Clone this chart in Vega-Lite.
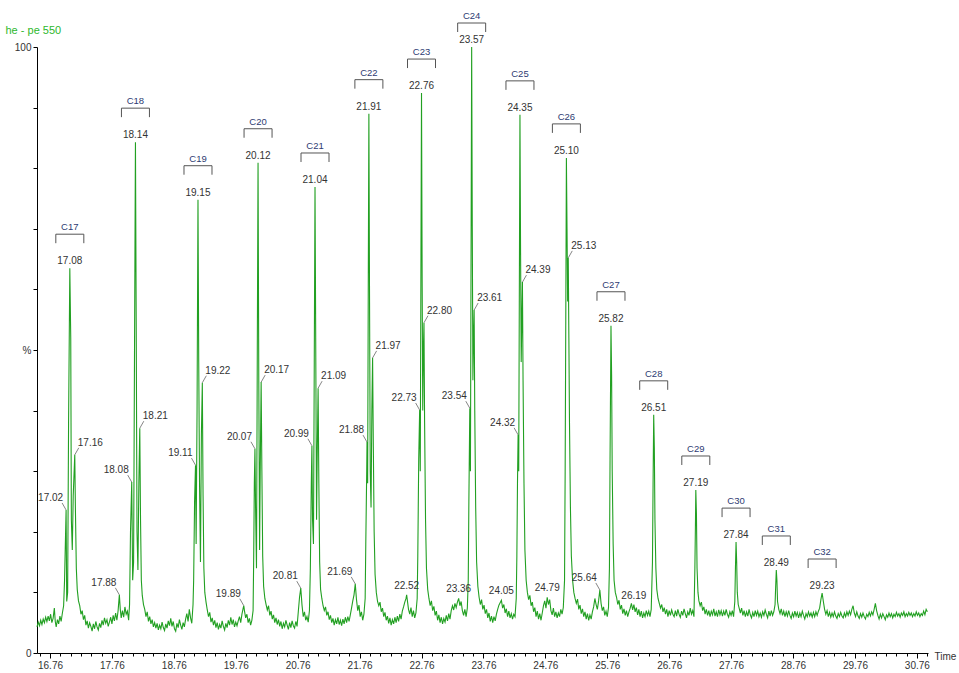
{
"$schema": "https://vega.github.io/schema/vega-lite/v6.json",
"width": 891, "height": 606,
"autosize": {"type": "none"},
"padding": {"left": 37, "top": 47, "right": 31, "bottom": 20},
"background": "white",
"config": {"view": {"stroke": null}, "font": "Liberation Sans", "axis": {"grid": false}},
"datasets": {
"trace": [
{"t":16.55,"v":4.3},{"t":16.57,"v":5.1},{"t":16.59,"v":4.5},{"t":16.61,"v":5.4},{"t":16.63,"v":4.7},{"t":16.65,"v":5.6},{"t":16.67,"v":5.0},{"t":16.69,"v":5.9},{"t":16.71,"v":5.2},{"t":16.73,"v":6.1},{"t":16.75,"v":5.3},{"t":16.77,"v":6.4},{"t":16.79,"v":5.0},{"t":16.81,"v":5.7},{"t":16.83,"v":7.4},{"t":16.845,"v":5.2},{"t":16.86,"v":4.3},{"t":16.88,"v":5.5},{"t":16.90,"v":4.8},{"t":16.92,"v":6.1},{"t":16.94,"v":5.2},{"t":16.96,"v":6.6},{"t":16.98,"v":7.8},
{"t":16.995,"v":12},{"t":17.01,"v":19},{"t":17.02,"v":23.6},{"t":17.03,"v":8.5},{"t":17.045,"v":10},{"t":17.06,"v":38},{"t":17.08,"v":63.5},{"t":17.095,"v":52},{"t":17.105,"v":22},{"t":17.12,"v":17},{"t":17.135,"v":26},{"t":17.16,"v":32.7},{"t":17.17,"v":24},{"t":17.185,"v":14},{"t":17.20,"v":10.5},{"t":17.22,"v":8.6},{"t":17.24,"v":7.8},{"t":17.26,"v":6.4},{"t":17.28,"v":7.0},{"t":17.30,"v":5.5},{"t":17.32,"v":6.2},{"t":17.34,"v":4.6},{"t":17.36,"v":5.3},{"t":17.38,"v":4.1},{"t":17.40,"v":5.0},{"t":17.42,"v":4.4},{"t":17.44,"v":3.6},{"t":17.46,"v":4.8},{"t":17.48,"v":4.0},{"t":17.50,"v":5.2},{"t":17.52,"v":4.3},{"t":17.54,"v":3.8},{"t":17.56,"v":4.9},{"t":17.58,"v":4.2},{"t":17.60,"v":5.4},{"t":17.62,"v":4.6},{"t":17.64,"v":5.8},{"t":17.66,"v":4.9},{"t":17.68,"v":5.5},{"t":17.70,"v":4.4},{"t":17.72,"v":5.1},{"t":17.74,"v":5.9},{"t":17.76,"v":4.8},{"t":17.78,"v":6.2},{"t":17.80,"v":5.3},{"t":17.82,"v":6.6},{"t":17.84,"v":5.4},{"t":17.86,"v":7.0},{"t":17.88,"v":9.6},{"t":17.895,"v":7.2},{"t":17.91,"v":5.8},{"t":17.93,"v":7.0},{"t":17.95,"v":5.9},{"t":17.97,"v":7.6},{"t":17.99,"v":6.4},{"t":18.01,"v":6.9},{"t":18.03,"v":5.4},{"t":18.045,"v":8},
{"t":18.06,"v":20},{"t":18.08,"v":28.2},{"t":18.095,"v":12},{"t":18.11,"v":15},{"t":18.125,"v":50},{"t":18.14,"v":84.3},{"t":18.152,"v":55},{"t":18.165,"v":20},{"t":18.18,"v":13.7},{"t":18.195,"v":28},{"t":18.21,"v":37.1},{"t":18.222,"v":22},{"t":18.235,"v":12},{"t":18.25,"v":9.5},{"t":18.27,"v":8.0},{"t":18.29,"v":7.2},{"t":18.31,"v":6.0},{"t":18.33,"v":6.8},{"t":18.35,"v":5.2},{"t":18.37,"v":6.0},{"t":18.39,"v":4.8},{"t":18.41,"v":5.5},{"t":18.43,"v":4.3},{"t":18.45,"v":5.0},{"t":18.47,"v":4.1},{"t":18.49,"v":4.9},{"t":18.51,"v":3.8},{"t":18.53,"v":4.6},{"t":18.55,"v":4.0},{"t":18.57,"v":5.1},{"t":18.59,"v":4.2},{"t":18.61,"v":3.7},{"t":18.63,"v":4.8},{"t":18.65,"v":4.1},{"t":18.67,"v":5.3},{"t":18.69,"v":4.5},{"t":18.71,"v":5.7},{"t":18.73,"v":4.4},{"t":18.75,"v":5.2},{"t":18.77,"v":4.0},{"t":18.79,"v":3.6},{"t":18.81,"v":4.9},{"t":18.83,"v":4.2},{"t":18.85,"v":5.5},{"t":18.87,"v":4.6},{"t":18.89,"v":3.9},{"t":18.91,"v":5.0},{"t":18.93,"v":4.3},{"t":18.95,"v":5.6},{"t":18.97,"v":6.5},{"t":18.99,"v":5.2},{"t":19.01,"v":7.2},{"t":19.03,"v":5.8},{"t":19.05,"v":4.9},{"t":19.07,"v":8},
{"t":19.08,"v":12},{"t":19.095,"v":25},{"t":19.11,"v":31},{"t":19.12,"v":18},{"t":19.135,"v":40},{"t":19.15,"v":74.8},{"t":19.162,"v":48},{"t":19.175,"v":28},{"t":19.19,"v":15},{"t":19.205,"v":36},{"t":19.22,"v":44.6},{"t":19.232,"v":26},{"t":19.245,"v":14},{"t":19.26,"v":10},{"t":19.28,"v":8.4},{"t":19.30,"v":7.1},{"t":19.32,"v":6.0},{"t":19.34,"v":6.7},{"t":19.36,"v":5.1},{"t":19.38,"v":5.8},{"t":19.40,"v":4.6},{"t":19.42,"v":5.4},{"t":19.44,"v":4.2},{"t":19.46,"v":5.0},{"t":19.48,"v":3.9},{"t":19.50,"v":4.7},{"t":19.52,"v":4.1},{"t":19.54,"v":5.3},{"t":19.56,"v":4.4},{"t":19.58,"v":3.8},{"t":19.60,"v":4.9},{"t":19.62,"v":4.2},{"t":19.64,"v":5.4},{"t":19.66,"v":4.6},{"t":19.68,"v":5.9},{"t":19.70,"v":4.7},{"t":19.72,"v":5.5},{"t":19.74,"v":4.3},{"t":19.76,"v":5.1},{"t":19.78,"v":4.5},{"t":19.80,"v":5.3},{"t":19.82,"v":6.0},{"t":19.84,"v":5.0},{"t":19.86,"v":6.4},{"t":19.88,"v":7.4},{"t":19.89,"v":7.8},{"t":19.90,"v":7.0},{"t":19.92,"v":5.8},{"t":19.94,"v":6.4},{"t":19.96,"v":5.0},{"t":19.98,"v":5.7},{"t":20.00,"v":4.6},{"t":20.02,"v":5.4},{"t":20.04,"v":7},
{"t":20.05,"v":16},{"t":20.06,"v":28},{"t":20.07,"v":33.7},{"t":20.08,"v":24},{"t":20.095,"v":14},{"t":20.108,"v":50},{"t":20.12,"v":80.9},{"t":20.132,"v":45},{"t":20.145,"v":17},{"t":20.155,"v":30},{"t":20.17,"v":44.7},{"t":20.182,"v":30},{"t":20.195,"v":16},{"t":20.21,"v":11},{"t":20.23,"v":9},{"t":20.25,"v":8},{"t":20.27,"v":7.1},{"t":20.29,"v":7.8},{"t":20.31,"v":6.2},{"t":20.33,"v":6.9},{"t":20.35,"v":5.6},{"t":20.37,"v":6.3},{"t":20.39,"v":5.0},{"t":20.41,"v":5.8},{"t":20.43,"v":4.7},{"t":20.45,"v":5.5},{"t":20.47,"v":4.4},{"t":20.49,"v":5.2},{"t":20.51,"v":4.0},{"t":20.53,"v":4.9},{"t":20.55,"v":4.3},{"t":20.57,"v":5.4},{"t":20.59,"v":4.6},{"t":20.61,"v":3.9},{"t":20.63,"v":5.0},{"t":20.65,"v":4.2},{"t":20.67,"v":5.3},{"t":20.69,"v":4.5},{"t":20.71,"v":4.1},{"t":20.73,"v":5.2},{"t":20.75,"v":4.4},{"t":20.77,"v":6.8},{"t":20.79,"v":9.2},{"t":20.81,"v":10.7},{"t":20.83,"v":7.9},{"t":20.85,"v":6.0},{"t":20.87,"v":6.8},{"t":20.89,"v":5.4},{"t":20.91,"v":6.0},{"t":20.93,"v":5.1},{"t":20.95,"v":7},
{"t":20.965,"v":14},{"t":20.98,"v":28},{"t":20.99,"v":34.2},{"t":21.00,"v":22},{"t":21.015,"v":18},{"t":21.028,"v":48},{"t":21.04,"v":76.9},{"t":21.052,"v":50},{"t":21.065,"v":22},{"t":21.075,"v":32},{"t":21.09,"v":43.7},{"t":21.102,"v":28},{"t":21.115,"v":15},{"t":21.13,"v":10.5},{"t":21.15,"v":9},{"t":21.17,"v":7.8},{"t":21.19,"v":7.0},{"t":21.21,"v":7.6},{"t":21.23,"v":6.2},{"t":21.25,"v":6.8},{"t":21.27,"v":5.5},{"t":21.29,"v":6.2},{"t":21.31,"v":5.0},{"t":21.33,"v":5.7},{"t":21.35,"v":4.6},{"t":21.37,"v":5.5},{"t":21.39,"v":4.8},{"t":21.41,"v":5.9},{"t":21.43,"v":4.7},{"t":21.45,"v":5.4},{"t":21.47,"v":4.5},{"t":21.49,"v":5.6},{"t":21.51,"v":4.8},{"t":21.53,"v":5.9},{"t":21.55,"v":5.0},{"t":21.57,"v":6.0},{"t":21.59,"v":5.2},{"t":21.61,"v":6.3},{"t":21.63,"v":7.4},{"t":21.65,"v":8.6},{"t":21.67,"v":9.6},{"t":21.69,"v":11.4},{"t":21.71,"v":8.8},{"t":21.73,"v":7.0},{"t":21.75,"v":7.9},{"t":21.77,"v":6.0},{"t":21.79,"v":6.8},{"t":21.81,"v":5.4},{"t":21.83,"v":6.4},{"t":21.85,"v":9},
{"t":21.86,"v":18},{"t":21.875,"v":30},{"t":21.88,"v":34.8},{"t":21.89,"v":28},{"t":21.90,"v":60},{"t":21.91,"v":89},{"t":21.92,"v":60},{"t":21.932,"v":30},{"t":21.945,"v":24},{"t":21.958,"v":40},{"t":21.97,"v":48.7},{"t":21.982,"v":34},{"t":21.995,"v":20},{"t":22.01,"v":13},{"t":22.03,"v":10},{"t":22.05,"v":8.5},{"t":22.07,"v":7.8},{"t":22.09,"v":8.4},{"t":22.11,"v":6.8},{"t":22.13,"v":7.4},{"t":22.15,"v":6.0},{"t":22.17,"v":6.7},{"t":22.19,"v":5.4},{"t":22.21,"v":6.1},{"t":22.23,"v":4.9},{"t":22.25,"v":5.8},{"t":22.27,"v":4.6},{"t":22.29,"v":5.5},{"t":22.31,"v":4.8},{"t":22.33,"v":5.9},{"t":22.35,"v":5.0},{"t":22.37,"v":6.1},{"t":22.39,"v":5.2},{"t":22.41,"v":6.4},{"t":22.43,"v":5.6},{"t":22.45,"v":6.9},{"t":22.47,"v":7.6},{"t":22.49,"v":8.4},{"t":22.51,"v":9.0},{"t":22.52,"v":9.6},{"t":22.53,"v":8.8},{"t":22.55,"v":7.2},{"t":22.57,"v":6.4},{"t":22.59,"v":7.5},{"t":22.61,"v":6.0},{"t":22.63,"v":7.0},{"t":22.65,"v":5.8},{"t":22.67,"v":6.6},{"t":22.69,"v":9},
{"t":22.70,"v":16},{"t":22.715,"v":32},{"t":22.73,"v":40.1},{"t":22.74,"v":30},{"t":22.75,"v":62},{"t":22.76,"v":92.4},{"t":22.77,"v":62},{"t":22.78,"v":40},{"t":22.79,"v":50},{"t":22.80,"v":54.5},{"t":22.81,"v":38},{"t":22.825,"v":22},{"t":22.84,"v":14},{"t":22.86,"v":10.5},{"t":22.88,"v":9},{"t":22.90,"v":7.8},{"t":22.92,"v":8.6},{"t":22.94,"v":7.0},{"t":22.96,"v":7.7},{"t":22.98,"v":6.2},{"t":23.00,"v":6.9},{"t":23.02,"v":5.4},{"t":23.04,"v":6.3},{"t":23.06,"v":5.0},{"t":23.08,"v":5.9},{"t":23.10,"v":4.8},{"t":23.12,"v":5.7},{"t":23.14,"v":5.1},{"t":23.16,"v":6.2},{"t":23.18,"v":5.3},{"t":23.20,"v":6.5},{"t":23.22,"v":5.6},{"t":23.24,"v":7.0},{"t":23.26,"v":7.8},{"t":23.28,"v":7.1},{"t":23.30,"v":8.2},{"t":23.32,"v":7.5},{"t":23.34,"v":8.4},{"t":23.36,"v":9.0},{"t":23.38,"v":7.8},{"t":23.40,"v":8.5},{"t":23.42,"v":7.0},{"t":23.44,"v":6.2},{"t":23.46,"v":7.2},{"t":23.48,"v":6.0},{"t":23.50,"v":7.4},{"t":23.515,"v":12},
{"t":23.525,"v":25},{"t":23.54,"v":40.4},{"t":23.55,"v":30},{"t":23.56,"v":65},{"t":23.57,"v":100},{"t":23.58,"v":70},{"t":23.59,"v":45},{"t":23.60,"v":52},{"t":23.61,"v":56.6},{"t":23.62,"v":40},{"t":23.635,"v":24},{"t":23.65,"v":15},{"t":23.67,"v":11},{"t":23.69,"v":9.2},{"t":23.71,"v":8.0},{"t":23.73,"v":8.8},{"t":23.75,"v":7.2},{"t":23.77,"v":7.9},{"t":23.79,"v":6.5},{"t":23.81,"v":7.2},{"t":23.83,"v":5.8},{"t":23.85,"v":6.6},{"t":23.87,"v":5.2},{"t":23.89,"v":6.1},{"t":23.91,"v":5.0},{"t":23.93,"v":6.0},{"t":23.95,"v":5.3},{"t":23.97,"v":6.4},{"t":23.99,"v":7.2},{"t":24.01,"v":7.9},{"t":24.03,"v":8.3},{"t":24.05,"v":8.7},{"t":24.07,"v":7.4},{"t":24.09,"v":8.0},{"t":24.11,"v":6.6},{"t":24.13,"v":7.3},{"t":24.15,"v":6.0},{"t":24.17,"v":6.9},{"t":24.19,"v":5.8},{"t":24.21,"v":6.5},{"t":24.23,"v":5.6},{"t":24.25,"v":6.4},{"t":24.27,"v":6.0},{"t":24.29,"v":9},
{"t":24.30,"v":16},{"t":24.31,"v":28},{"t":24.32,"v":36},{"t":24.33,"v":30},{"t":24.34,"v":60},{"t":24.35,"v":88.8},{"t":24.36,"v":66},{"t":24.37,"v":48},{"t":24.38,"v":55},{"t":24.39,"v":61.2},{"t":24.40,"v":45},{"t":24.415,"v":28},{"t":24.43,"v":17},{"t":24.45,"v":12},{"t":24.47,"v":10},{"t":24.49,"v":8.8},{"t":24.51,"v":9.5},{"t":24.53,"v":7.8},{"t":24.55,"v":8.4},{"t":24.57,"v":6.8},{"t":24.59,"v":7.5},{"t":24.61,"v":6.0},{"t":24.63,"v":6.9},{"t":24.65,"v":5.6},{"t":24.67,"v":6.5},{"t":24.69,"v":5.4},{"t":24.71,"v":6.6},{"t":24.73,"v":7.8},{"t":24.75,"v":8.6},{"t":24.77,"v":7.4},{"t":24.79,"v":9.2},{"t":24.81,"v":8.0},{"t":24.83,"v":8.8},{"t":24.85,"v":7.0},{"t":24.87,"v":6.3},{"t":24.89,"v":7.4},{"t":24.91,"v":6.0},{"t":24.93,"v":6.8},{"t":24.95,"v":5.8},{"t":24.97,"v":6.6},{"t":24.99,"v":6.0},{"t":25.01,"v":7.2},{"t":25.03,"v":6.4},{"t":25.05,"v":7.5},{"t":25.07,"v":12},
{"t":25.08,"v":30},{"t":25.09,"v":55},{"t":25.10,"v":81.7},{"t":25.11,"v":70},{"t":25.12,"v":58},{"t":25.13,"v":65.2},{"t":25.14,"v":52},{"t":25.15,"v":38},{"t":25.165,"v":24},{"t":25.18,"v":16},{"t":25.20,"v":12},{"t":25.22,"v":10},{"t":25.24,"v":9},{"t":25.26,"v":8.2},{"t":25.28,"v":8.9},{"t":25.30,"v":7.2},{"t":25.32,"v":7.9},{"t":25.34,"v":6.5},{"t":25.36,"v":7.3},{"t":25.38,"v":6.0},{"t":25.40,"v":6.8},{"t":25.42,"v":5.6},{"t":25.44,"v":6.5},{"t":25.46,"v":5.4},{"t":25.48,"v":6.3},{"t":25.50,"v":5.6},{"t":25.52,"v":6.8},{"t":25.54,"v":7.6},{"t":25.56,"v":9.0},{"t":25.58,"v":8.0},{"t":25.60,"v":7.2},{"t":25.62,"v":8.6},{"t":25.64,"v":10.4},{"t":25.66,"v":8.2},{"t":25.68,"v":7.0},{"t":25.70,"v":7.6},{"t":25.72,"v":6.2},{"t":25.74,"v":6.9},{"t":25.76,"v":6.0},{"t":25.78,"v":7.5},{"t":25.795,"v":14},
{"t":25.805,"v":32},{"t":25.82,"v":54},{"t":25.83,"v":46},{"t":25.84,"v":30},{"t":25.855,"v":18},{"t":25.87,"v":12},{"t":25.89,"v":10},{"t":25.91,"v":9.2},{"t":25.93,"v":8.0},{"t":25.95,"v":8.7},{"t":25.97,"v":7.2},{"t":25.99,"v":7.9},{"t":26.01,"v":6.5},{"t":26.03,"v":7.3},{"t":26.05,"v":6.2},{"t":26.07,"v":7.0},{"t":26.09,"v":6.0},{"t":26.11,"v":6.8},{"t":26.13,"v":7.4},{"t":26.15,"v":8.2},{"t":26.17,"v":7.1},{"t":26.19,"v":8.0},{"t":26.21,"v":6.8},{"t":26.23,"v":7.5},{"t":26.25,"v":6.3},{"t":26.27,"v":7.2},{"t":26.29,"v":6.0},{"t":26.31,"v":6.9},{"t":26.33,"v":5.8},{"t":26.35,"v":6.6},{"t":26.37,"v":6.0},{"t":26.39,"v":7.0},{"t":26.41,"v":6.2},{"t":26.43,"v":6.9},{"t":26.45,"v":6.0},{"t":26.47,"v":7.2},{"t":26.49,"v":15},
{"t":26.50,"v":28},{"t":26.51,"v":39.3},{"t":26.52,"v":34},{"t":26.53,"v":22},{"t":26.545,"v":14},{"t":26.56,"v":10.5},{"t":26.58,"v":9},{"t":26.60,"v":8.2},{"t":26.62,"v":7.4},{"t":26.64,"v":8.0},{"t":26.66,"v":6.8},{"t":26.68,"v":7.5},{"t":26.70,"v":6.4},{"t":26.72,"v":7.2},{"t":26.74,"v":6.0},{"t":26.76,"v":7.0},{"t":26.78,"v":6.2},{"t":26.80,"v":7.1},{"t":26.82,"v":6.4},{"t":26.84,"v":6.0},{"t":26.86,"v":7.0},{"t":26.88,"v":6.1},{"t":26.90,"v":7.2},{"t":26.92,"v":6.4},{"t":26.94,"v":5.9},{"t":26.96,"v":6.9},{"t":26.98,"v":6.2},{"t":27.00,"v":7.3},{"t":27.02,"v":6.5},{"t":27.04,"v":5.8},{"t":27.06,"v":6.8},{"t":27.08,"v":6.2},{"t":27.10,"v":7.4},{"t":27.12,"v":6.4},{"t":27.14,"v":7.0},{"t":27.16,"v":6.0},{"t":27.175,"v":14},
{"t":27.185,"v":22},{"t":27.19,"v":26.9},{"t":27.20,"v":23},{"t":27.21,"v":14},{"t":27.225,"v":10},{"t":27.24,"v":8.6},{"t":27.26,"v":7.8},{"t":27.28,"v":8.4},{"t":27.30,"v":7.0},{"t":27.32,"v":7.6},{"t":27.34,"v":6.4},{"t":27.36,"v":7.2},{"t":27.38,"v":6.2},{"t":27.40,"v":7.0},{"t":27.42,"v":6.0},{"t":27.44,"v":6.9},{"t":27.46,"v":6.3},{"t":27.48,"v":7.3},{"t":27.50,"v":6.1},{"t":27.52,"v":6.8},{"t":27.54,"v":6.0},{"t":27.56,"v":7.1},{"t":27.58,"v":6.3},{"t":27.60,"v":7.0},{"t":27.62,"v":6.1},{"t":27.64,"v":6.9},{"t":27.66,"v":6.2},{"t":27.68,"v":7.2},{"t":27.70,"v":6.4},{"t":27.72,"v":5.9},{"t":27.74,"v":6.8},{"t":27.76,"v":6.2},{"t":27.78,"v":7.0},{"t":27.80,"v":6.0},{"t":27.82,"v":8.5},
{"t":27.83,"v":14},{"t":27.84,"v":18.3},{"t":27.85,"v":15},{"t":27.86,"v":10},{"t":27.875,"v":8},{"t":27.89,"v":7.4},{"t":27.91,"v":6.6},{"t":27.93,"v":7.4},{"t":27.95,"v":6.2},{"t":27.97,"v":7.0},{"t":27.99,"v":6.0},{"t":28.01,"v":6.8},{"t":28.03,"v":6.1},{"t":28.05,"v":7.2},{"t":28.07,"v":6.3},{"t":28.09,"v":5.8},{"t":28.11,"v":6.7},{"t":28.13,"v":6.0},{"t":28.15,"v":7.0},{"t":28.17,"v":6.2},{"t":28.19,"v":6.9},{"t":28.21,"v":6.0},{"t":28.23,"v":6.6},{"t":28.25,"v":5.9},{"t":28.27,"v":6.8},{"t":28.29,"v":6.2},{"t":28.31,"v":7.1},{"t":28.33,"v":6.4},{"t":28.35,"v":5.8},{"t":28.37,"v":6.9},{"t":28.39,"v":6.1},{"t":28.41,"v":7.0},{"t":28.43,"v":6.2},{"t":28.45,"v":6.8},{"t":28.47,"v":8.0},
{"t":28.48,"v":11},{"t":28.49,"v":13.7},{"t":28.50,"v":12},{"t":28.51,"v":8.5},{"t":28.53,"v":7.2},{"t":28.55,"v":6.5},{"t":28.57,"v":7.3},{"t":28.59,"v":6.2},{"t":28.61,"v":6.9},{"t":28.63,"v":6.0},{"t":28.65,"v":6.8},{"t":28.67,"v":6.1},{"t":28.69,"v":7.0},{"t":28.71,"v":6.2},{"t":28.73,"v":5.7},{"t":28.75,"v":6.6},{"t":28.77,"v":6.0},{"t":28.79,"v":6.9},{"t":28.81,"v":6.1},{"t":28.83,"v":6.7},{"t":28.85,"v":5.8},{"t":28.87,"v":6.6},{"t":28.89,"v":6.0},{"t":28.91,"v":6.9},{"t":28.93,"v":6.2},{"t":28.95,"v":5.6},{"t":28.97,"v":6.5},{"t":28.99,"v":6.0},{"t":29.01,"v":6.8},{"t":29.03,"v":6.1},{"t":29.05,"v":6.6},{"t":29.07,"v":5.9},{"t":29.09,"v":6.7},{"t":29.11,"v":6.0},{"t":29.13,"v":6.8},{"t":29.15,"v":6.2},{"t":29.17,"v":6.9},{"t":29.19,"v":7.4},{"t":29.21,"v":8.8},
{"t":29.23,"v":9.9},{"t":29.25,"v":8.5},{"t":29.27,"v":7.2},{"t":29.29,"v":6.4},{"t":29.31,"v":7.0},{"t":29.33,"v":6.0},{"t":29.35,"v":6.7},{"t":29.37,"v":5.9},{"t":29.39,"v":6.6},{"t":29.41,"v":6.0},{"t":29.43,"v":6.8},{"t":29.45,"v":6.1},{"t":29.47,"v":5.7},{"t":29.49,"v":6.5},{"t":29.51,"v":6.0},{"t":29.53,"v":6.7},{"t":29.55,"v":6.1},{"t":29.57,"v":5.8},{"t":29.59,"v":6.6},{"t":29.61,"v":6.0},{"t":29.63,"v":6.8},{"t":29.65,"v":6.2},{"t":29.67,"v":6.9},{"t":29.69,"v":6.3},{"t":29.71,"v":7.2},{"t":29.73,"v":7.8},{"t":29.75,"v":6.6},{"t":29.77,"v":6.0},{"t":29.79,"v":6.8},{"t":29.81,"v":6.1},{"t":29.83,"v":5.7},{"t":29.85,"v":6.5},{"t":29.87,"v":5.9},{"t":29.89,"v":6.6},{"t":29.91,"v":6.0},{"t":29.93,"v":5.6},{"t":29.95,"v":6.4},{"t":29.97,"v":6.0},{"t":29.99,"v":6.7},{"t":30.01,"v":6.1},{"t":30.03,"v":6.8},{"t":30.05,"v":6.3},{"t":30.07,"v":7.2},{"t":30.09,"v":8.2},{"t":30.11,"v":7.0},{"t":30.13,"v":6.2},{"t":30.15,"v":5.6},{"t":30.17,"v":6.4},{"t":30.19,"v":5.8},{"t":30.21,"v":6.5},{"t":30.23,"v":6.0},{"t":30.25,"v":5.5},{"t":30.27,"v":6.3},{"t":30.29,"v":5.9},{"t":30.31,"v":6.6},{"t":30.33,"v":6.0},{"t":30.35,"v":6.5},{"t":30.37,"v":5.8},{"t":30.39,"v":6.4},{"t":30.41,"v":6.0},{"t":30.43,"v":6.7},{"t":30.45,"v":6.1},{"t":30.47,"v":6.5},{"t":30.49,"v":5.9},{"t":30.51,"v":6.6},{"t":30.53,"v":6.2},{"t":30.55,"v":6.8},{"t":30.57,"v":6.0},{"t":30.59,"v":6.5},{"t":30.61,"v":6.1},{"t":30.63,"v":6.7},{"t":30.65,"v":6.2},{"t":30.67,"v":6.6},{"t":30.69,"v":6.0},{"t":30.71,"v":6.5},{"t":30.73,"v":6.1},{"t":30.75,"v":6.8},{"t":30.77,"v":6.2},{"t":30.79,"v":6.6},{"t":30.81,"v":6.0},{"t":30.83,"v":6.5},{"t":30.85,"v":6.2},{"t":30.87,"v":6.9},{"t":30.89,"v":6.3},{"t":30.91,"v":7.2},{"t":30.93,"v":6.8}
],
"main": [
{"c":"C17","t":17.08,"v":63.5},{"c":"C18","t":18.14,"v":84.3},{"c":"C19","t":19.15,"v":74.8},{"c":"C20","t":20.12,"v":80.9},{"c":"C21","t":21.04,"v":76.9},{"c":"C22","t":21.91,"v":89},{"c":"C23","t":22.76,"v":92.4},{"c":"C24","t":23.57,"v":100},{"c":"C25","t":24.35,"v":88.8},{"c":"C26","t":25.10,"v":81.7},{"c":"C27","t":25.82,"v":54},{"c":"C28","t":26.51,"v":39.3},{"c":"C29","t":27.19,"v":26.9},{"c":"C30","t":27.84,"v":18.3},{"c":"C31","t":28.49,"v":13.7},{"c":"C32","t":29.23,"v":9.9}
],
"minorTop": [
{"t":22.52,"v":9.6},{"t":23.36,"v":9.0},{"t":24.05,"v":8.7},{"t":24.79,"v":9.2},{"t":26.19,"v":8.0}
],
"left": [
{"t":17.02,"v":23.6},{"t":17.88,"v":9.6},{"t":18.08,"v":28.2},{"t":19.11,"v":31},{"t":19.89,"v":7.8},{"t":20.07,"v":33.7},{"t":20.81,"v":10.7},{"t":20.99,"v":34.2},{"t":21.69,"v":11.4},{"t":21.88,"v":34.8},{"t":22.73,"v":40.1},{"t":23.54,"v":40.4},{"t":24.32,"v":36},{"t":25.64,"v":10.4}
],
"right": [
{"t":17.16,"v":32.7},{"t":18.21,"v":37.1},{"t":19.22,"v":44.6},{"t":20.17,"v":44.7},{"t":21.09,"v":43.7},{"t":21.97,"v":48.7},{"t":22.80,"v":54.5},{"t":23.61,"v":56.6},{"t":24.39,"v":61.2},{"t":25.13,"v":65.2}
]
},
"layer": [
{
"data": {"name": "trace"},
"mark": {"type": "line", "color": "#22a022", "strokeWidth": 1.1, "interpolate": "linear"},
"encoding": {
"x": {"field": "t", "type": "quantitative", "scale": {"domain": [16.55, 30.94], "nice": false, "zero": false},
"axis": {"title": "Time", "titleX": 897, "titleY": 3, "titleAlign": "left", "titleBaseline": "middle", "titleFontSize": 10, "titleFontWeight": "normal", "titleColor": "#333333", "titleFont": "Liberation Sans",
"tickCount": 200,
"values": [16.5933,16.76,16.9267,17.0933,17.26,17.4267,17.5933,17.76,17.9267,18.0933,18.26,18.4267,18.5933,18.76,18.9267,19.0933,19.26,19.4267,19.5933,19.76,19.9267,20.0933,20.26,20.4267,20.5933,20.76,20.9267,21.0933,21.26,21.4267,21.5933,21.76,21.9267,22.0933,22.26,22.4267,22.5933,22.76,22.9267,23.0933,23.26,23.4267,23.5933,23.76,23.9267,24.0933,24.26,24.4267,24.5933,24.76,24.9267,25.0933,25.26,25.4267,25.5933,25.76,25.9267,26.0933,26.26,26.4267,26.5933,26.76,26.9267,27.0933,27.26,27.4267,27.5933,27.76,27.9267,28.0933,28.26,28.4267,28.5933,28.76,28.9267,29.0933,29.26,29.4267,29.5933,29.76,29.9267,30.0933,30.26,30.4267,30.5933,30.76,30.9267],
"labelExpr": "(round(datum.value*100) - 76) % 100 == 0 ? format(datum.value, '.2f') : ''",
"labelOverlap": false, "labelFlush": false, "labelBound": false,
"labelFontSize": 10, "labelColor": "#333333", "labelPadding": 2,
"tickSize": {"condition": {"test": "(round(datum.value*100) - 76) % 100 == 0", "value": 5}, "value": 3},
"tickColor": "#000000", "domainColor": "#000000", "tickWidth": 1, "domainWidth": 1}},
"y": {"field": "v", "type": "quantitative", "scale": {"domain": [0, 100], "nice": false},
"axis": {"title": "he - pe 550", "titleAngle": 0, "titleX": -32, "titleY": -17, "titleAlign": "left", "titleBaseline": "middle", "titleColor": "#2db82d", "titleFontSize": 11, "titleFontWeight": "normal", "titleFont": "Liberation Sans",
"tickCount": 50,
"values": [0,10,20,30,40,50,60,70,80,90,100],
"labelExpr": "datum.value == 100 ? '100' : datum.value == 0 ? '0' : datum.value == 50 ? '%' : ''",
"labelOverlap": false, "labelFlush": false, "labelBound": false,
"tickSize": 4, "labelPadding": 2, "labelFontSize": 10, "labelColor": "#333333", "domainColor": "#000000", "tickColor": "#000000"}}
}
},
{
"data": {"name": "left"},
"mark": {"type": "rule", "color": "#666666", "strokeWidth": 0.8, "x2Offset": -4, "y2Offset": -7},
"encoding": {"x": {"field": "t", "type": "quantitative"}, "x2": {"field": "t"}, "y": {"field": "v", "type": "quantitative"}, "y2": {"field": "v"}}
},
{
"data": {"name": "right"},
"mark": {"type": "rule", "color": "#666666", "strokeWidth": 0.8, "x2Offset": 4, "y2Offset": -7},
"encoding": {"x": {"field": "t", "type": "quantitative"}, "x2": {"field": "t"}, "y": {"field": "v", "type": "quantitative"}, "y2": {"field": "v"}}
},
{
"data": {"name": "left"},
"mark": {"type": "text", "align": "right", "baseline": "middle", "dx": -3, "dy": -12, "fontSize": 10, "color": "#333333"},
"encoding": {"x": {"field": "t", "type": "quantitative"}, "y": {"field": "v", "type": "quantitative"}, "text": {"field": "t", "type": "quantitative", "format": ".2f"}}
},
{
"data": {"name": "right"},
"mark": {"type": "text", "align": "left", "baseline": "middle", "dx": 3, "dy": -12, "fontSize": 10, "color": "#333333"},
"encoding": {"x": {"field": "t", "type": "quantitative"}, "y": {"field": "v", "type": "quantitative"}, "text": {"field": "t", "type": "quantitative", "format": ".2f"}}
},
{
"data": {"name": "main"},
"mark": {"type": "text", "align": "center", "baseline": "bottom", "dy": -2, "fontSize": 10, "color": "#333333"},
"encoding": {"x": {"field": "t", "type": "quantitative"}, "y": {"field": "v", "type": "quantitative"}, "text": {"field": "t", "type": "quantitative", "format": ".2f"}}
},
{
"data": {"name": "minorTop"},
"mark": {"type": "text", "align": "center", "baseline": "bottom", "dy": -4, "fontSize": 10, "color": "#333333"},
"encoding": {"x": {"field": "t", "type": "quantitative"}, "y": {"field": "v", "type": "quantitative"}, "text": {"field": "t", "type": "quantitative", "format": ".2f"}}
},
{
"data": {"name": "main"},
"transform": [{"filter": "datum.c != 'C24'"}],
"layer": [
{"mark": {"type": "rule", "color": "#555555", "strokeWidth": 1, "xOffset": -14, "x2Offset": 14, "yOffset": -34}, "encoding": {"x": {"field": "t", "type": "quantitative"}, "x2": {"field": "t"}, "y": {"field": "v", "type": "quantitative"}}},
{"mark": {"type": "rule", "color": "#555555", "strokeWidth": 1, "xOffset": -14, "yOffset": -34, "y2Offset": -25}, "encoding": {"x": {"field": "t", "type": "quantitative"}, "y": {"field": "v", "type": "quantitative"}, "y2": {"field": "v"}}},
{"mark": {"type": "rule", "color": "#555555", "strokeWidth": 1, "xOffset": 14, "yOffset": -34, "y2Offset": -25}, "encoding": {"x": {"field": "t", "type": "quantitative"}, "y": {"field": "v", "type": "quantitative"}, "y2": {"field": "v"}}},
{"mark": {"type": "text", "align": "center", "baseline": "bottom", "dy": -36, "fontSize": 9.5, "color": "#2e3b72"}, "encoding": {"x": {"field": "t", "type": "quantitative"}, "y": {"field": "v", "type": "quantitative"}, "text": {"field": "c"}}}
]
},
{
"data": {"name": "main"},
"transform": [{"filter": "datum.c == 'C24'"}],
"layer": [
{"mark": {"type": "rule", "color": "#555555", "strokeWidth": 1, "xOffset": -14, "x2Offset": 14, "yOffset": -24}, "encoding": {"x": {"field": "t", "type": "quantitative"}, "x2": {"field": "t"}, "y": {"field": "v", "type": "quantitative"}}},
{"mark": {"type": "rule", "color": "#555555", "strokeWidth": 1, "xOffset": -14, "yOffset": -24, "y2Offset": -15}, "encoding": {"x": {"field": "t", "type": "quantitative"}, "y": {"field": "v", "type": "quantitative"}, "y2": {"field": "v"}}},
{"mark": {"type": "rule", "color": "#555555", "strokeWidth": 1, "xOffset": 14, "yOffset": -24, "y2Offset": -15}, "encoding": {"x": {"field": "t", "type": "quantitative"}, "y": {"field": "v", "type": "quantitative"}, "y2": {"field": "v"}}},
{"mark": {"type": "text", "align": "center", "baseline": "bottom", "dy": -26, "fontSize": 9.5, "color": "#2e3b72"}, "encoding": {"x": {"field": "t", "type": "quantitative"}, "y": {"field": "v", "type": "quantitative"}, "text": {"field": "c"}}}
]
}
]
}
